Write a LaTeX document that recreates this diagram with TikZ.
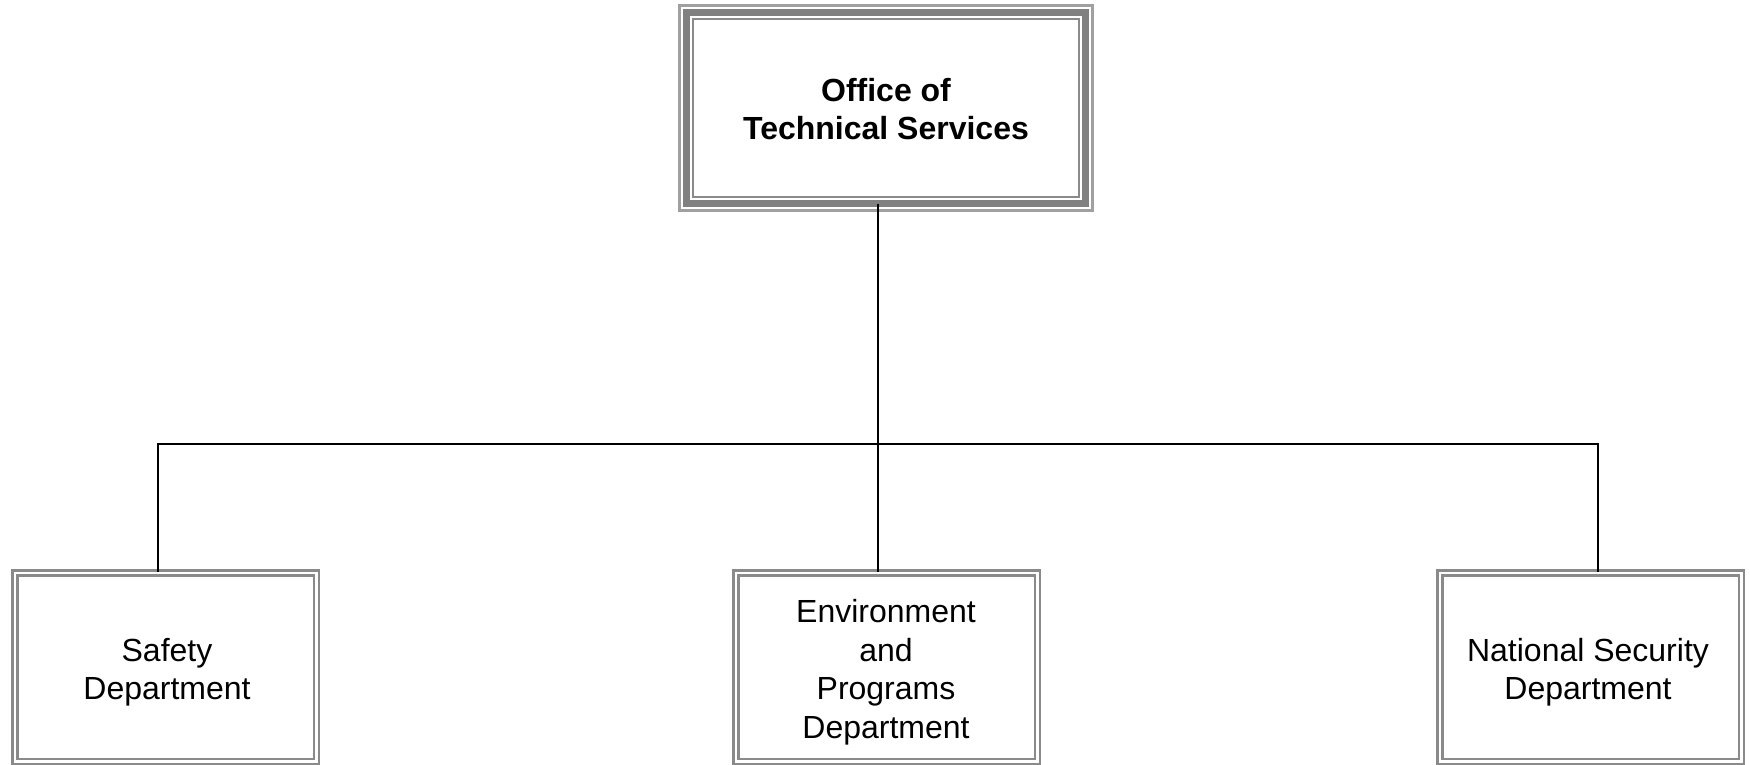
\documentclass[tikz,border=0pt]{standalone}
\usepackage{fontspec}
\setmainfont{Liberation Sans}
\definecolor{bandgray}{HTML}{808080}
\definecolor{lightgray2}{HTML}{A0A0A0}
\definecolor{linegray}{HTML}{8A8A8A}
\begin{document}
\begin{tikzpicture}[x=1pt,y=-1pt,
  deptbox/.style={draw=linegray, line width=2.5pt, double=white, double distance=2.5pt,
    minimum width=301.5pt, minimum height=188.5pt, inner sep=0pt},
  depttext/.style={inner sep=0pt, align=center, font=\fontsize{32pt}{38.5pt}\selectfont},
  headbox/.style={draw=none, minimum width=416pt, minimum height=208pt, inner sep=0pt},
  headtext/.style={inner sep=0pt, align=center, font=\fontsize{32pt}{38pt}\selectfont\bfseries},
  conn/.style={draw=black, line width=2.5pt}]
\useasboundingbox (0,0) rectangle (1750,765);
\fill[white] (0,0) rectangle (1750,765);
% head box
\node[headbox] (ots) at (886,108) {};
\node[headtext] (otstext) at (886,109) {Office of\\Technical Services};
\draw[lightgray2, line width=3pt] ([shift={(1.5,1.5)}]ots.north west) rectangle ([shift={(-1.5,-1.5)}]ots.south east);
\draw[bandgray, line width=7pt] ([shift={(8.5,8.5)}]ots.north west) rectangle ([shift={(-8.5,-8.5)}]ots.south east);
\draw[linegray, line width=2pt] ([shift={(15,15)}]ots.north west) rectangle ([shift={(-15,-15)}]ots.south east);
% department boxes
\node[deptbox] (safety) at (165.5,667) {};
\node[deptbox] (env) at (886.5,667) {};
\node[deptbox] (nat) at (1590.5,667) {};
\node[depttext] (safetytext) at (167,672) {Safety\\Department};
\node[depttext] (envtext) at (886,672) {Environment\\and\\Programs\\Department};
\node[depttext] (nattext) at (1588,672) {National Security\\Department};
% connectors
\coordinate (hl) at (158,444);
\coordinate (hm) at (878,444);
\coordinate (hr) at (1598,444);
\draw[conn] ([yshift=8pt]hm |- ots.south) -- (hm |- env.north);
\draw[conn, line cap=rect] (hl) -- (hr);
\draw[conn] (hl) -- (hl |- safety.north);
\draw[conn] (hr) -- (hr |- nat.north);
\end{tikzpicture}
\end{document}
